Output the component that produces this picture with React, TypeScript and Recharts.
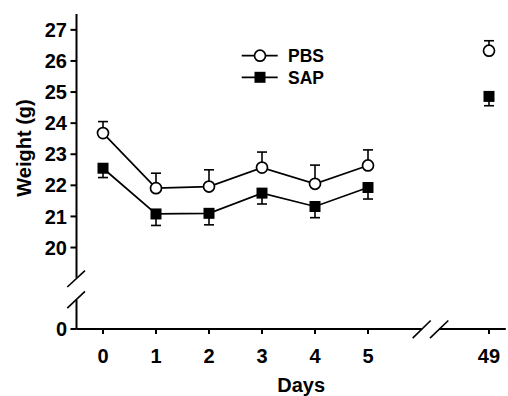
import React from 'react';
import {
  LineChart,
  Line,
  XAxis,
  YAxis,
  ErrorBar,
  ReferenceLine
} from 'recharts';

// body weight (g), mean +/- SEM
const days = [0, 1, 2, 3, 4, 5];
const pbsMean = [23.68, 21.91, 21.96, 22.57, 22.05, 22.64];
const pbsSem = [0.37, 0.48, 0.54, 0.5, 0.6, 0.5];
const sapMean = [22.55, 21.08, 21.1, 21.75, 21.32, 21.93];
const sapSem = [0.3, 0.37, 0.37, 0.35, 0.36, 0.37];

// late time point, drawn apart after the axis break
const lateDay = 49;
const pbsLate = 26.33;
const pbsLateSem = 0.32;
const sapLate = 24.86;
const sapLateSem = 0.3;

const seriesNames = ['PBS', 'SAP'];
const yTickValues = [0, 20, 21, 22, 23, 24, 25, 26, 27];

// broken axes: day 49 sits at 7.28 on the x scale, 0 g sits at 17.38 on the y scale
const LATE_POS = 7.283;
const ZERO_POS = 17.38;
const X_DOMAIN: [number, number] = [-0.5, 7.6];
const Y_DOMAIN: [number, number] = [ZERO_POS, 27.51];

const xPos = (d: number) => (d === lateDay ? LATE_POS : d);
const yPos = (v: number) => (v === 0 ? ZERO_POS : v);

const pbsData = days.map((d, i) => ({ x: xPos(d), y: pbsMean[i], err: [0, pbsSem[i]] }));
const sapData = days.map((d, i) => ({ x: xPos(d), y: sapMean[i], err: [sapSem[i], 0] }));
const pbsLateData = [{ x: xPos(lateDay), y: pbsLate, err: [0, pbsLateSem] }];
const sapLateData = [{ x: xPos(lateDay), y: sapLate, err: [sapLateSem, 0] }];

const FONT = '"Liberation Sans", Arial, sans-serif';
const INK = '#000';

const circleDot = { r: 5.5, fill: '#fff', stroke: INK, strokeWidth: 1.7 };
const squareDot = (props: any) => {
  const { cx, cy, index } = props;
  return <rect key={`sq-${index}`} x={cx - 5.5} y={cy - 5.5} width={11} height={11} fill={INK} />;
};

const axisSeg = { stroke: INK, strokeWidth: 2, ifOverflow: 'visible' as const };
const slashSeg = { stroke: INK, strokeWidth: 1.6, ifOverflow: 'visible' as const };

function SeriesLegend() {
  return (
    <svg width={120} height={48} style={{ position: 'absolute', left: 236, top: 44 }}>
      {seriesNames.map((name, i) => {
        const y = 11.7 + i * 21.6;
        return (
          <g key={name}>
            <line x1={5.7} x2={41.7} y1={y} y2={y} stroke={INK} strokeWidth={1.7} />
            {i === 0 ? (
              <circle cx={24} cy={y} r={5.5} fill="#fff" stroke={INK} strokeWidth={1.7} />
            ) : (
              <rect x={18.5} y={y - 5.5} width={11} height={11} fill={INK} />
            )}
            <text x={52} y={y + 6.2} fontFamily={FONT} fontWeight="bold" fontSize={17.5} fill={INK}>
              {name}
            </text>
          </g>
        );
      })}
    </svg>
  );
}

export default function App() {
  const tickStyle = { fill: INK, fontSize: 20, fontWeight: 'bold', fontFamily: FONT };

  return (
    <div style={{ position: 'absolute', left: 0, top: 0, width: 508, height: 396, background: '#fff' }}>
      <LineChart
        width={508}
        height={396}
        margin={{ top: 14, right: 2.2, left: 16.5, bottom: 27 }}
      >
        <XAxis
          type="number"
          dataKey="x"
          domain={X_DOMAIN}
          ticks={[...days.map(xPos), xPos(lateDay)]}
          tickFormatter={(v: number) => (v === LATE_POS ? String(lateDay) : String(v))}
          interval={0}
          allowDataOverflow
          axisLine={false}
          tickLine={{ stroke: INK, strokeWidth: 2 }}
          tickSize={5}
          tickMargin={14.5}
          tick={tickStyle}
          height={40}
          label={{
            value: 'Days',
            position: 'bottom',
            offset: 9,
            dx: 10,
            style: { fill: INK, fontSize: 20, fontWeight: 'bold', fontFamily: FONT }
          }}
        />
        <YAxis
          type="number"
          domain={Y_DOMAIN}
          ticks={yTickValues.map(yPos)}
          tickFormatter={(v: number) => (v === ZERO_POS ? '0' : String(v))}
          interval={0}
          allowDataOverflow
          axisLine={false}
          tickLine={{ stroke: INK, strokeWidth: 2 }}
          tickSize={6}
          tickMargin={3.5}
          tick={tickStyle}
          width={60}
          label={{
            content: () => (
              <text
                transform="translate(31,148) rotate(-90)"
                textAnchor="middle"
                fontFamily={FONT}
                fontWeight="bold"
                fontSize={20}
                fill={INK}
              >
                Weight (g)
              </text>
            )
          }}
        />

        {/* axis lines with breaks */}
        <ReferenceLine segment={[{ x: -0.5, y: Y_DOMAIN[1] }, { x: -0.5, y: 19.03 }]} {...axisSeg} />
        <ReferenceLine segment={[{ x: -0.5, y: 18.32 }, { x: -0.5, y: ZERO_POS }]} {...axisSeg} />
        <ReferenceLine segment={[{ x: -0.674, y: 18.73 }, { x: -0.34, y: 19.26 }]} {...slashSeg} />
        <ReferenceLine segment={[{ x: -0.674, y: 18.05 }, { x: -0.34, y: 18.59 }]} {...slashSeg} />
        <ReferenceLine segment={[{ x: -0.5, y: ZERO_POS }, { x: 6.013, y: ZERO_POS }]} {...axisSeg} />
        <ReferenceLine segment={[{ x: 6.34, y: ZERO_POS }, { x: X_DOMAIN[1], y: ZERO_POS }]} {...axisSeg} />
        <ReferenceLine segment={[{ x: 5.843, y: 17.087 }, { x: 6.183, y: 17.653 }]} {...slashSeg} />
        <ReferenceLine segment={[{ x: 6.17, y: 17.087 }, { x: 6.515, y: 17.653 }]} {...slashSeg} />

        <Line
          data={pbsData}
          dataKey="y"
          name={seriesNames[0]}
          stroke={INK}
          strokeWidth={1.7}
          dot={circleDot}
          isAnimationActive={false}
        >
          <ErrorBar dataKey="err" direction="y" width={5} stroke={INK} strokeWidth={1.6} />
        </Line>
        <Line
          data={sapData}
          dataKey="y"
          name={seriesNames[1]}
          stroke={INK}
          strokeWidth={1.7}
          dot={squareDot}
          isAnimationActive={false}
        >
          <ErrorBar dataKey="err" direction="y" width={5} stroke={INK} strokeWidth={1.6} />
        </Line>
        <Line
          data={pbsLateData}
          dataKey="y"
          stroke={INK}
          dot={circleDot}
          isAnimationActive={false}
        >
          <ErrorBar dataKey="err" direction="y" width={5} stroke={INK} strokeWidth={1.6} />
        </Line>
        <Line
          data={sapLateData}
          dataKey="y"
          stroke={INK}
          dot={squareDot}
          isAnimationActive={false}
        >
          <ErrorBar dataKey="err" direction="y" width={5} stroke={INK} strokeWidth={1.6} />
        </Line>
      </LineChart>
      <SeriesLegend />
    </div>
  );
}
